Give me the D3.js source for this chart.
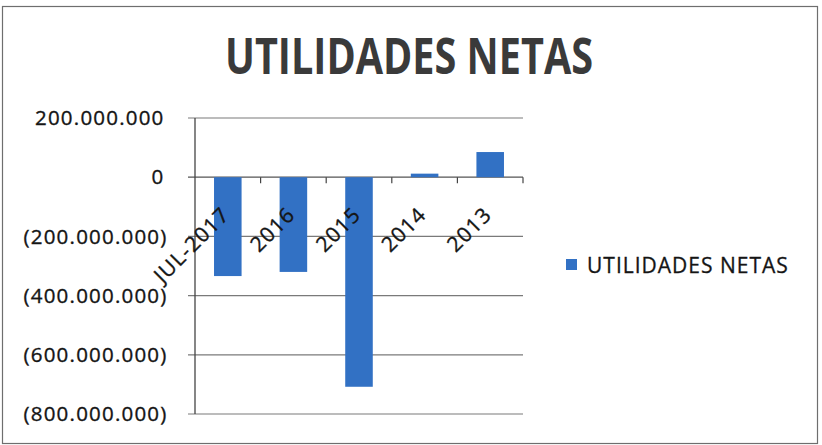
<!DOCTYPE html>
<html>
<head>
<meta charset="utf-8">
<script src="https://cdn.jsdelivr.net/npm/d3@7"></script>
<style>
  body { margin: 0; background: #fff; }
  svg { display: block; font-family: 'Open Sans', sans-serif; }
</style>
</head>
<body>
<svg width="822" height="445"></svg>
<script>
const categories = ['JUL-2017', '2016', '2015', '2014', '2013'];
const values = [-334000000, -320000000, -708000000, 12000000, 85000000];
const yTicks = [200000000, 0, -200000000, -400000000, -600000000, -800000000];
const seriesName = 'UTILIDADES NETAS';
const title = 'UTILIDADES NETAS';

const SVG = d3.select('svg');
const BLUE = '#3271c4';
const GRID = '#7a7a7a';
const INK = '#151515';

// outer chart border
SVG.append('rect')
  .attr('x', 2.5).attr('y', 6.5)
  .attr('width', 815).attr('height', 437)
  .style('fill', 'none')
  .style('stroke', '#6e6e6e')
  .style('stroke-width', 1.2);

// title
SVG.append('text')
  .attr('x', 409)
  .attr('y', 74)
  .attr('text-anchor', 'middle')
  .attr('textLength', 368)
  .attr('lengthAdjust', 'spacingAndGlyphs')
  .style('font-size', '51px')
  .style('font-weight', '700')
  .style('fill', '#3a3a3a')
  .text(title);

const locale = d3.formatLocale({ decimal: ',', thousands: '.', grouping: [3], currency: ['', ''] });
const fmt = locale.format(',d');

const Y_SCALE = d3.scaleLinear()
  .domain([-800000000, 200000000])
  .range([414, 118]);

const X_SCALE = d3.scaleBand()
  .domain(categories)
  .range([195, 523])
  .padding(0);

const PLOT_LEFT = 195;
const PLOT_RIGHT = 523;

// gridlines and y ticks
yTicks.forEach(t => {
  SVG.append('line')
    .attr('x1', PLOT_LEFT - 7)
    .attr('x2', PLOT_RIGHT)
    .attr('y1', Y_SCALE(t))
    .attr('y2', Y_SCALE(t))
    .style('stroke', t === 0 ? '#555' : GRID)
    .style('stroke-width', 1.2);

  SVG.append('text')
    .attr('x', t < 0 ? 167.5 : 164.5)
    .attr('y', Y_SCALE(t))
    .attr('dy', '0.35em')
    .attr('text-anchor', 'end')
    .style('font-size', '20.5px')
    .style('letter-spacing', '1.2px')
    .style('fill', INK)
    .style('stroke', INK)
    .style('stroke-width', 0.35)
    .text(t < 0 ? `(${fmt(-t)})` : fmt(t));
});

// y axis line
SVG.append('line')
  .attr('x1', PLOT_LEFT).attr('x2', PLOT_LEFT)
  .attr('y1', Y_SCALE(200000000)).attr('y2', Y_SCALE(-800000000))
  .style('stroke', '#444')
  .style('stroke-width', 1.3);

// bars
const BAR_W = X_SCALE.bandwidth() * 0.42;
SVG.append('g')
  .selectAll('rect')
  .data(values)
  .join('rect')
  .attr('x', (d, i) => X_SCALE(categories[i]) + (X_SCALE.bandwidth() - BAR_W) / 2)
  .attr('width', BAR_W)
  .attr('y', d => Y_SCALE(Math.max(0, d)))
  .attr('height', d => Math.abs(Y_SCALE(d) - Y_SCALE(0)))
  .style('fill', BLUE);

// category tick marks on the zero line
categories.forEach(c => {
  const x = X_SCALE(c) + X_SCALE.bandwidth();
  SVG.append('line')
    .attr('x1', x).attr('x2', x)
    .attr('y1', Y_SCALE(0)).attr('y2', Y_SCALE(0) + 6)
    .style('stroke', '#444')
    .style('stroke-width', 1.2);
});

// rotated category labels
categories.forEach(c => {
  const cx = X_SCALE(c) + X_SCALE.bandwidth() / 2;
  SVG.append('text')
    .attr('transform', `translate(${cx + 3},216) rotate(-45)`)
    .attr('text-anchor', 'end')
    .style('font-size', '21px')
    .style('letter-spacing', '1.2px')
    .style('fill', INK)
    .style('stroke', INK)
    .style('stroke-width', 0.35)
    .text(c);
});

// legend
SVG.append('rect')
  .attr('x', 566).attr('y', 259)
  .attr('width', 11).attr('height', 11)
  .style('fill', BLUE);
SVG.append('text')
  .attr('x', 587)
  .attr('y', 273)
  .style('font-size', '21px')
  .style('letter-spacing', '1px')
  .style('fill', INK)
  .style('stroke', INK)
  .style('stroke-width', 0.3)
  .text(seriesName);
</script>
</body>
</html>
